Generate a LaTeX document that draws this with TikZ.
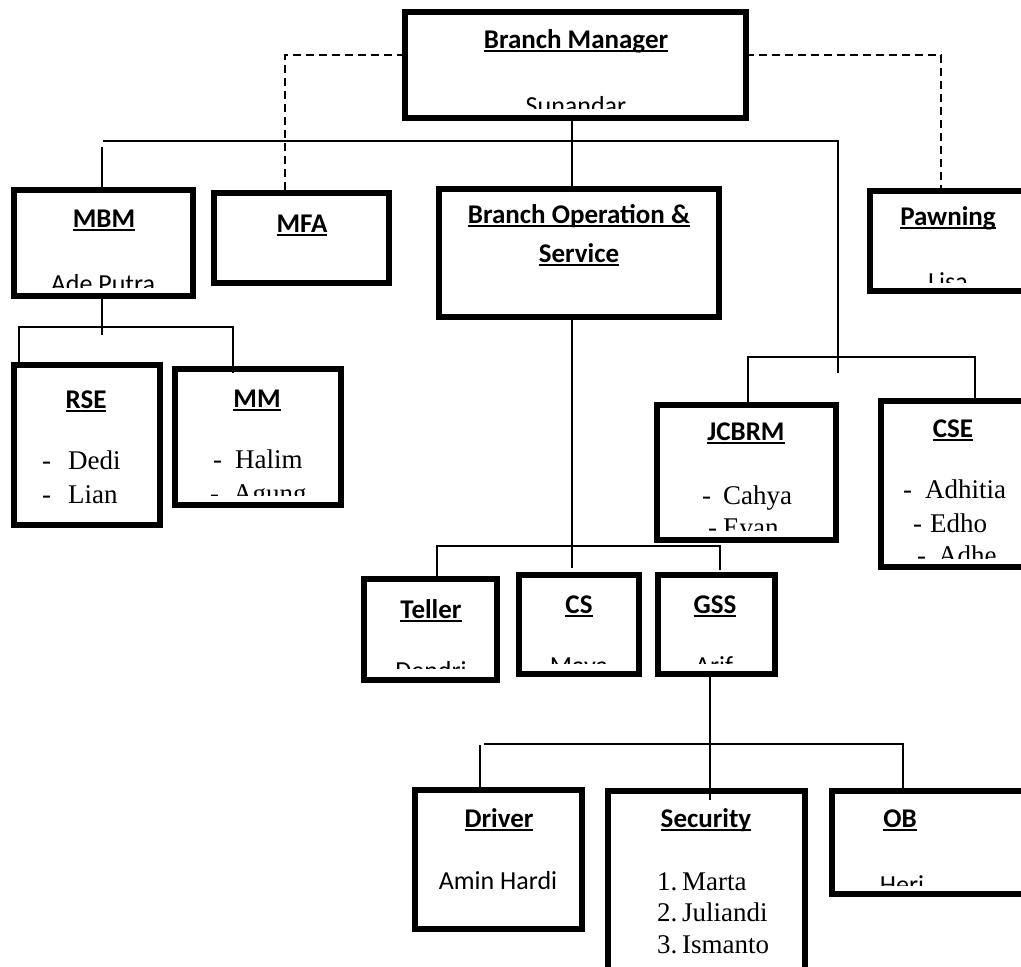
\documentclass[tikz,border=0pt]{standalone}
\usepackage{fontspec}
\setmainfont{Liberation Serif}
\newfontfamily\calib{Carlito}
\newcommand\ulx[1]{\setbox0\hbox{#1}\rlap{\rule[-3.6pt]{\wd0}{2pt}}\box0}
\begin{document}
\begin{tikzpicture}[x=1pt,y=-1pt,
  box/.style={draw, line width=5.2pt, inner sep=0pt, outer sep=0pt, anchor=north west},
  title/.style={font=\calib\bfseries\fontsize{27}{32}\selectfont, inner sep=0pt, anchor=base},
  cname/.style={font=\calib\fontsize{26}{31}\selectfont, inner sep=0pt, anchor=base},
  sname/.style={font=\fontsize{27}{31}\selectfont, inner sep=0pt, anchor=base west},
  conn/.style={line width=1.7pt},
  dsh/.style={line width=1.7pt, dash pattern=on 8pt off 5pt}]
\useasboundingbox (0,0) rectangle (1021,967);
\clip (0,0) rectangle (1021,967);
\fill[white] (0,0) rectangle (1021,967);

% boxes
\node[box, minimum width=341pt, minimum height=106pt] (bm) at (405,12) {};
\node[box, minimum width=179pt, minimum height=106pt] (mbm) at (14,190) {};
\node[box, minimum width=175pt, minimum height=90pt] (mfa) at (214,193) {};
\node[box, minimum width=280pt, minimum height=128pt] (bos) at (439,189) {};
\node[box, minimum width=170pt, minimum height=100pt] (paw) at (870,191) {};
\node[box, minimum width=146pt, minimum height=160pt] (rse) at (14,365) {};
\node[box, minimum width=166pt, minimum height=136pt] (mm) at (175,369) {};
\node[box, minimum width=179pt, minimum height=135pt] (jcbrm) at (657,405) {};
\node[box, minimum width=160pt, minimum height=166pt] (cse) at (881,401) {};
\node[box, minimum width=133pt, minimum height=101pt] (teller) at (364,579) {};
\node[box, minimum width=120pt, minimum height=99pt] (cs) at (519,575) {};
\node[box, minimum width=117pt, minimum height=99pt] (gss) at (658,575) {};
\node[box, minimum width=167pt, minimum height=139pt] (driver) at (415,790) {};
\node[box, minimum width=197pt, minimum height=190pt] (sec) at (608,791) {};
\node[box, minimum width=200pt, minimum height=103pt] (ob) at (832,791) {};

% titles
\node[title] (tbm) at (576,48) {\ulx{Branch Manager}};
\node[title] (tmbm) at (104,227) {\ulx{MBM}};
\node[title] (tmfa) at (302,232) {\ulx{MFA}};
\node[title] (tbos1) at (579,223) {\ulx{Branch Operation \&}};
\node[title] (tbos2) at (579,262) {\ulx{Service}};
\node[title] (tpaw) at (948,225) {\ulx{Pawning}};
\node[title] (trse) at (86,408) {\ulx{RSE}};
\node[title] (tmm) at (257,407) {\ulx{MM}};
\node[title] (tjc) at (746,440) {\ulx{JCBRM}};
\node[title] (tcse) at (953,437) {\ulx{CSE}};
\node[title] (ttel) at (431,618) {\ulx{Teller}};
\node[title] (tcs) at (579,613) {\ulx{CS}};
\node[title] (tgss) at (715,613) {\ulx{GSS}};
\node[title] (tdrv) at (499,827) {\ulx{Driver}};
\node[title] (tsec) at (706,827) {\ulx{Security}};
\node[title] (tob) at (900,827) {\ulx{OB}};

% names (clipped ones)
\begin{scope}\clip (405,12) rectangle (746,108); \node[cname] (nbm) at (576,114) {Sunandar}; \end{scope}
\begin{scope}\clip (14,190) rectangle (193,287); \node[cname] (nmbm) at (103,292) {Ade Putra}; \end{scope}
\begin{scope}\clip (870,191) rectangle (1021,282); \node[cname] (npaw) at (948,290) {Lisa}; \end{scope}
\begin{scope}\clip (175,369) rectangle (341,495); \node[sname] (nmm2) at (210,502) {\makebox[23pt][l]{-}Agung}; \end{scope}
\begin{scope}\clip (657,405) rectangle (836,530); \node[sname] (njc2) at (708,536) {\makebox[15pt][l]{-}Evan}; \end{scope}
\begin{scope}\clip (881,401) rectangle (1021,558); \node[sname] (ncse3) at (917,564) {\makebox[21pt][l]{-}Adhe}; \end{scope}
\begin{scope}\clip (364,579) rectangle (497,668); \node[cname] (ntel) at (431,679) {Dendri}; \end{scope}
\begin{scope}\clip (519,575) rectangle (639,663); \node[cname] (ncs) at (579,674) {Maya}; \end{scope}
\begin{scope}\clip (658,575) rectangle (775,663); \node[cname] (ngss) at (714,674) {Arif}; \end{scope}
\begin{scope}\clip (832,791) rectangle (1021,885); \node[cname] (nob) at (902,893) {Heri}; \end{scope}

% names (full)
\node[sname] (nrse1) at (42,469) {\makebox[26pt][l]{-}Dedi};
\node[sname] (nrse2) at (42,503) {\makebox[26pt][l]{-}Lian};
\node[sname] (nmm1) at (213,468) {\makebox[22pt][l]{-}Halim};
\node[sname] (njc1) at (702,504) {\makebox[21pt][l]{-}Cahya};
\node[sname] (ncse1) at (903,498) {\makebox[22pt][l]{-}Adhitia};
\node[sname] (ncse2) at (913,532) {\makebox[17pt][l]{-}Edho};
\node[cname] (ndrv) at (498,889) {Amin Hardi};
\node[sname] (nsec1) at (657,890) {\makebox[25pt][l]{1.}Marta};
\node[sname] (nsec2) at (657,921) {\makebox[25pt][l]{2.}Juliandi};
\node[sname] (nsec3) at (657,953) {\makebox[25pt][l]{3.}Ismanto};

% connectors
\coordinate (j0) at (572,141);
\coordinate (bL) at (103,141);
\coordinate (bR) at (838,141);
\coordinate (bRe) at (838,373);
\draw[conn] (bm.south -| j0) -- (bos.north -| j0);
\draw[conn] (bL) -- (bR) -- (bRe);
\coordinate (mbmT) at (102,147);
\draw[conn] (mbmT) -- (mbmT |- mbm.north);

\coordinate (dL) at (285,55);
\draw[dsh] (bm.west |- dL) -- (dL) -- (dL |- mfa.north);
\coordinate (dR) at (941,55);
\draw[dsh] (bm.east |- dR) -- (dR) -- (dR |- paw.north);

\coordinate (m1) at (102,335);
\draw[conn] (mbm.south -| m1) -- (m1);
\coordinate (mL) at (19,327);
\coordinate (mR) at (233,327);
\draw[conn] (mL |- rse.north) -- (mL) -- (mR) -- ([yshift=-4pt]mm.north -| mR);

\coordinate (cL) at (748,357);
\coordinate (cR) at (975,357);
\draw[conn] (cL |- jcbrm.north) -- (cL) -- (cR) -- (cR |- cse.north);

\coordinate (t0) at (572,568);
\draw[conn] (bos.south -| t0) -- (t0);
\coordinate (tL) at (437,546);
\coordinate (tR) at (720,546);
\draw[conn] (tL |- teller.north) -- (tL) -- (tR) -- ([yshift=5pt]gss.north -| tR);

\coordinate (g0) at (710,744);
\draw[conn] (gss.south -| g0) -- ([yshift=-9pt]sec.north -| g0);
\coordinate (dLb) at (484,744);
\coordinate (dRb) at (903,744);
\draw[conn] (dLb) -- (dRb) -- (dRb |- ob.north);
\coordinate (drT) at (480,745);
\draw[conn] (drT) -- (drT |- driver.north);
\end{tikzpicture}
\end{document}
